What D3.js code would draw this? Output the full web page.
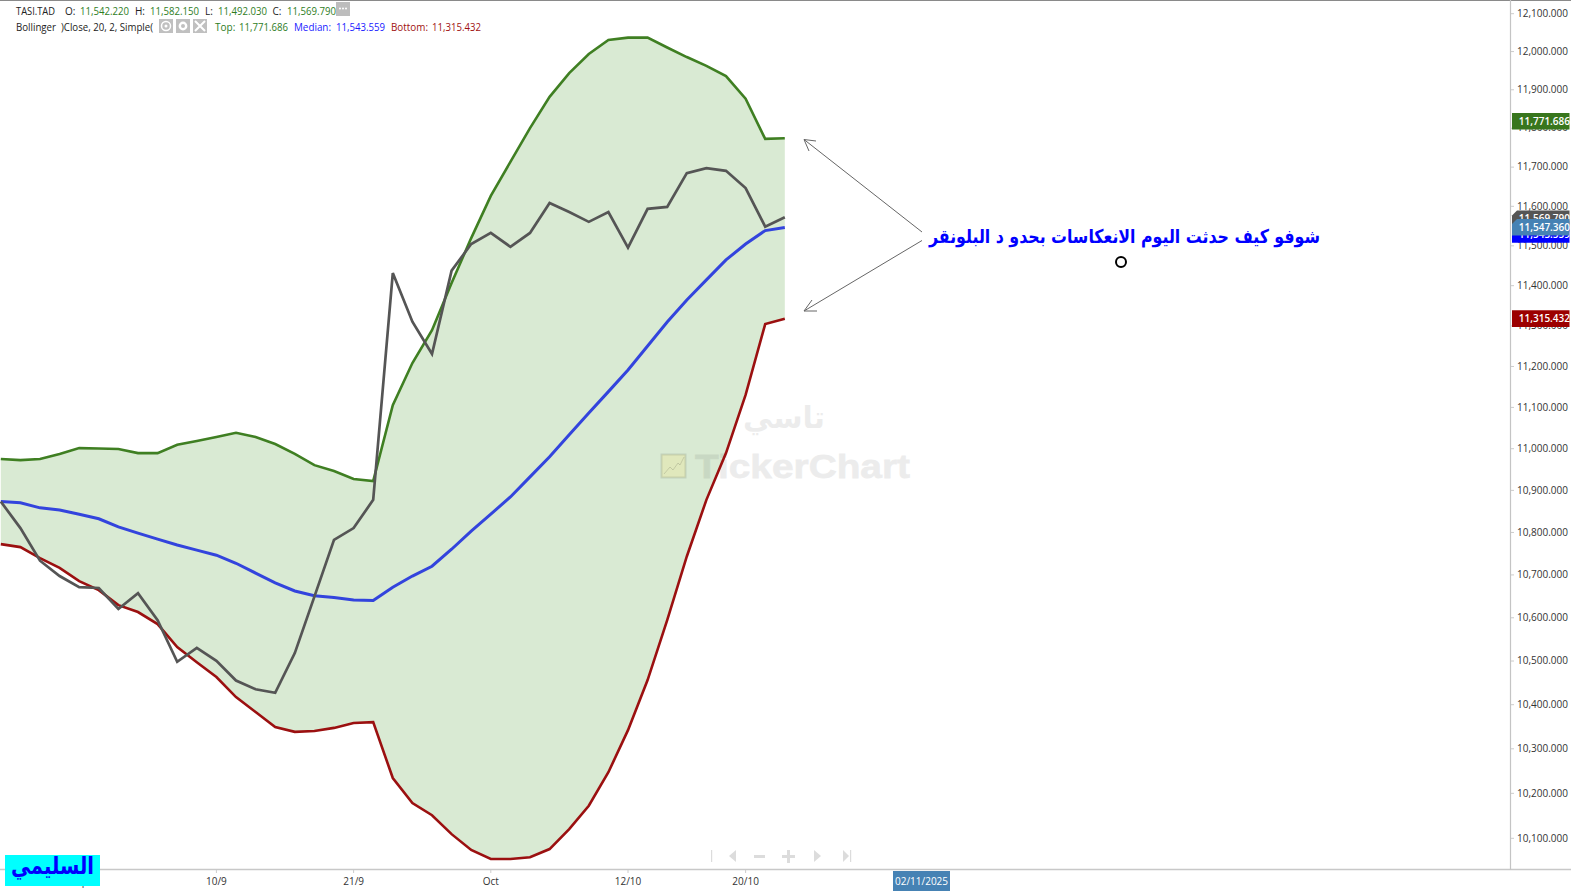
<!DOCTYPE html>
<html><head><meta charset="utf-8">
<script src="https://cdn.jsdelivr.net/npm/d3@7"></script>
<style>html,body{margin:0;padding:0;background:#fff;overflow:hidden}svg{display:block}text{font-family:"Open Sans",sans-serif}</style>
</head><body><svg id="c" width="1571" height="891"></svg>
<script>
const closeVals=[10871,10808,10731,10695,10669,10667,10618,10655,10592,10496,10528,10498,10453,10433,10425,10516,10647,10780,10808,10875,11429,11308,11228,11435,11502,11530,11495,11530,11606,11583,11558,11583,11493,11591,11596,11682,11695,11688,11644,11546,11569.79];
const topVals=[10973,10970,10973,10985,10999,10998,10997,10987,10987,11007,11016,11026,11036,11026,11009,10985,10958,10944,10925,10920,11103,11206,11287,11404,11517,11624,11711,11798,11879,11941,11991,12028,12034,12034,12008,11983,11960,11933,11874,11770,11771.686];
const medianVals=[10871,10868,10856,10851,10841,10830,10811,10796,10782,10768,10756,10744,10725,10702,10679,10660,10649,10645,10639,10638,10669,10695,10718,10758,10801,10841,10882,10930,10978,11031,11084,11136,11189,11248,11307,11362,11412,11462,11502,11536,11543.559];
const bottomVals=[10770,10763,10737,10714,10683,10662,10627,10611,10583,10530,10495,10461,10415,10381,10347,10336,10338,10345,10356,10358,10232,10176,10149,10107,10072,10052,10052,10056,10074,10118,10170,10245,10340,10454,10592,10741,10875,10987,11128,11302,11315.432];
const xTickIdx=[1,4,11,18,25,32,38];
const xTickLabels=["27/8","Sep","10/9","21/9","Oct","12/10","20/10"];
const yTicks=[12100,12000,11900,11800,11700,11600,11500,11400,11300,11200,11100,11000,10900,10800,10700,10600,10500,10400,10300,10200,10100];
const ohlc=[["O:","11,542.220"],["H:","11,582.150"],["L:","11,492.030"],["C:","11,569.790"]];
const noteText="شوفو كيف حدثت اليوم الانعكاسات بحدو د البلونقر";
const signText="السليمي";

const svg=d3.select("#c");
const x=d3.scaleLinear().domain([0,40]).range([0.8,784.8]);
const y=d3.scaleLog().domain([10100,12100]).range([837.3,12.7]);
const idx=d3.range(41);
const G="#3f7f22",B="#3344dd",R="#9b1010",K="#555555";

// band
svg.append("path").attr("fill","#d9ead3")
  .attr("d",d3.area().x(i=>x(i)).y0(i=>y(bottomVals[i])).y1(i=>y(topVals[i]))(idx));

// watermark
const wm=svg.append("g").attr("opacity",0.07);
wm.append("text").attr("x",743).attr("y",428).attr("textLength",82).attr("lengthAdjust","spacingAndGlyphs")
  .style("font-family","DejaVu Sans").style("font-weight","bold").style("font-size","30px").attr("fill","#000").text("تاسي");
wm.append("text").attr("x",695).attr("y",478).attr("textLength",215).attr("lengthAdjust","spacingAndGlyphs")
  .style("font-family","Liberation Sans").style("font-weight","bold").style("font-size","34px").attr("fill","#000").attr("stroke","#000").attr("stroke-width",0.8).text("TickerChart");
svg.append("rect").attr("x",661.5).attr("y",454.5).attr("width",24).attr("height",23)
  .attr("fill","rgba(230,230,170,0.55)").attr("stroke","rgba(0,0,0,0.1)").attr("stroke-width",2);
svg.append("path").attr("d","M664 474L670 467L673 470L678 463L680 465L684 457").attr("fill","none").attr("stroke","rgba(0,0,0,0.13)");

// lines
const line=v=>d3.line().x((d,i)=>x(i)).y(d=>y(d))(v);
[[topVals,G,2.6],[medianVals,B,3],[bottomVals,R,2.6],[closeVals,K,2.7]].forEach(([v,c,w])=>{
  svg.append("path").attr("d",line(v)).attr("fill","none").attr("stroke",c).attr("stroke-width",w).attr("stroke-linejoin","miter");
});

// frame
svg.append("line").attr("x1",0).attr("x2",1571).attr("y1",0.5).attr("y2",0.5).attr("stroke","#8a8a8a");
svg.append("line").attr("x1",0).attr("x2",1571).attr("y1",869.5).attr("y2",869.5).attr("stroke","#c8c8c8").attr("stroke-width",1.5);
svg.append("line").attr("x1",1510.5).attr("x2",1510.5).attr("y1",0).attr("y2",870).attr("stroke","#c4c4c4").attr("stroke-width",1.2);

// y axis
const yAxis=svg.append("g").attr("transform","translate(1511,0.5)")
  .call(d3.axisRight(y).tickValues(yTicks).tickFormat(d3.format(",.3f")).tickSize(3).tickPadding(3));
yAxis.select(".domain").remove();
yAxis.selectAll("line").attr("stroke","#ccc");
yAxis.selectAll("text").attr("fill","#333").style("font-size","10px").style("font-family","Open Sans");

// x axis
const xAxis=svg.append("g").attr("transform","translate(-0.5,870)")
  .call(d3.axisBottom(x).tickValues(xTickIdx).tickFormat(d=>xTickLabels[xTickIdx.indexOf(d)]).tickSize(3).tickPadding(5));
xAxis.select(".domain").remove();
xAxis.selectAll("line").attr("stroke","#ccc");
xAxis.selectAll("text").attr("fill","#333").style("font-size","10px").style("font-family","Open Sans");

// date tag
svg.append("rect").attr("x",893).attr("y",871).attr("width",57).attr("height",20).attr("fill","#4682b4");
svg.append("text").attr("x",921.5).attr("y",884.5).attr("text-anchor","middle").attr("fill","#fff").style("font-size","10px").text("02/11/2025");

// price tags
function tag(value,offset,color,label,cut){
  const cy=y(value)+offset,h=16.6,l=1512,r=1569.5,t=cy-h/2,b=cy+h/2;
  const d=cut?`M${l} ${t+5}L${l+5} ${t}L${r} ${t}L${r} ${b}L${l} ${b}Z`:`M${l} ${t}L${r} ${t}L${r} ${b}L${l} ${b}Z`;
  svg.append("path").attr("d",d).attr("fill",color);
  svg.append("text").attr("x",1570).attr("y",cy+3.5).attr("text-anchor","end").attr("fill","#fff")
    .style("font-size","10px").style("font-weight","600").text(label);
}
tag(11771.686,-17,"#38761d","11,771.686",false);
tag(11315.432,0,"#9c0000","11,315.432",false);
tag(11569.79,1.6,"#555555","11,569.790",true);
tag(11543.559,7,"#0000ff","11,543.559",false);
tag(11547.36,1.2,"#4682b4","11,547.360",true);

// legend
function t(xp,yp,s,c,len){const e=svg.append("text").attr("x",xp).attr("y",yp).attr("fill",c).style("font-size","10px").text(s);if(len)e.attr("textLength",len).attr("lengthAdjust","spacingAndGlyphs");return e;}
t(16,14.5,"TASI.TAD","#222",39);
const lx=[65,135,205,272.5],vx=[80,150,218,287];
ohlc.forEach((o,i)=>{t(lx[i],14.5,o[0],"#222");t(vx[i],14.5,o[1],"#2e7d1e",49);});
svg.append("rect").attr("x",336).attr("y",2).attr("width",14).attr("height",14).attr("fill","#bdbdbd");
[340,343,346].forEach(a=>svg.append("circle").attr("cx",a).attr("cy",8.5).attr("r",1).attr("fill","#fff"));
t(16,30.5,"Bollinger","#222",40);
t(61,30.5,")Close, 20, 2, Simple(","#222",92);
[159,176,193].forEach(a=>svg.append("rect").attr("x",a).attr("y",19).attr("width",14).attr("height",14).attr("fill","#c0c0c0"));
svg.append("circle").attr("cx",166).attr("cy",26).attr("r",4.5).attr("fill","none").attr("stroke","#fff").attr("stroke-width",1.5);
svg.append("circle").attr("cx",166).attr("cy",26).attr("r",1.5).attr("fill","#fff");
svg.append("circle").attr("cx",183).attr("cy",26).attr("r",3.2).attr("fill","none").attr("stroke","#fff").attr("stroke-width",2.4);
svg.append("path").attr("d","M195 21L205 31M205 21L195 31").attr("stroke","#fff").attr("stroke-width",2);
t(215,30.5,"Top:","#2e7d1e");t(239,30.5,"11,771.686","#2e7d1e",49);
t(294,30.5,"Median:","#1a1aff",37);t(336,30.5,"11,543.559","#1a1aff",49);
t(391,30.5,"Bottom:","#a01010",37);t(432,30.5,"11,315.432","#a01010",49);

// nav icons
const nav=svg.append("g").attr("fill","#dcdcdc");
nav.append("rect").attr("x",711).attr("y",850).attr("width",1.2).attr("height",12);
nav.append("path").attr("d","M736 850L736 862L729 856Z");
nav.append("rect").attr("x",754).attr("y",855).attr("width",11).attr("height",3);
nav.append("path").attr("d","M782 855H787V850H790V855H795V858H790V863H787V858H782Z");
nav.append("path").attr("d","M814 850L814 862L821 856Z");
nav.append("path").attr("d","M843 850L843 862L849 856Z");
nav.append("rect").attr("x",850).attr("y",850).attr("width",1.2).attr("height",12);

// annotation
const an=svg.append("g").attr("stroke","#666").attr("fill","none").attr("stroke-width",1);
an.append("path").attr("d","M922 232L804 139.5M816 141L804 139.5L809 151");
an.append("path").attr("d","M922 240.5L804 311M817 311L804 311L812 300");
svg.append("text").attr("x",1320).attr("y",243).attr("textLength",391).attr("lengthAdjust","spacingAndGlyphs")
  .style("font-family","DejaVu Sans").style("font-weight","bold").style("font-size","19px").attr("fill","#0000ff").attr("direction","rtl").text(noteText);
svg.append("circle").attr("cx",1121).attr("cy",262).attr("r",5).attr("fill","#fff").attr("stroke","#000").attr("stroke-width",2);

// signature
svg.append("rect").attr("x",5).attr("y",855).attr("width",95).attr("height",31).attr("fill","#00ffff");
svg.append("text").attr("x",11).attr("y",874).attr("textLength",83).attr("lengthAdjust","spacingAndGlyphs")
  .style("font-family","DejaVu Sans").style("font-weight","bold").style("font-size","24px").attr("fill","#0000ff").text(signText);
</script></body></html>
